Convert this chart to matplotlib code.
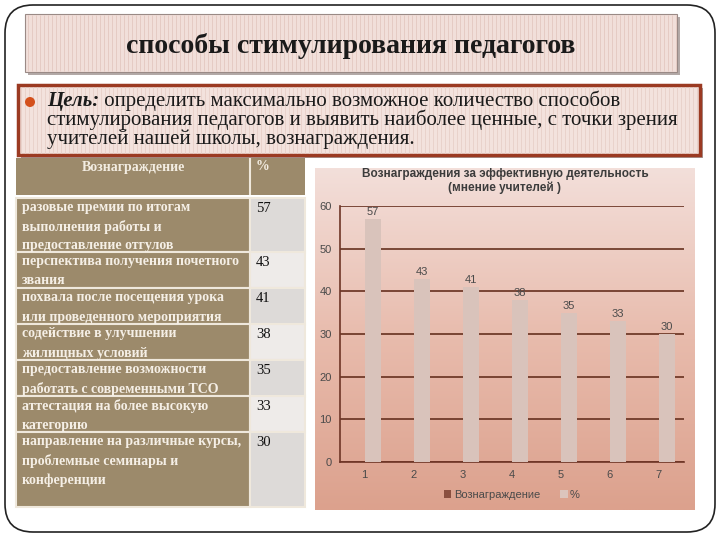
import matplotlib
matplotlib.use("Agg")
import matplotlib.pyplot as plt
from matplotlib.patches import FancyBboxPatch, Rectangle, Circle, Patch
import numpy as np

# ---------------- data ----------------
categories = [1, 2, 3, 4, 5, 6, 7]
values = [57, 43, 41, 38, 35, 33, 30]
rewards = [
    "разовые премии по итогам\nвыполнения работы и\nпредоставление отгулов",
    "перспектива получения почетного\nзвания",
    "похвала после посещения урока\nили проведенного мероприятия",
    "содействие в улучшении\nжилищных условий",
    "предоставление возможности\nработать с современными ТСО",
    "аттестация на более высокую\nкатегорию",
    "направление на различные курсы,\nпроблемные семинары и\nконференции",
]
series_names = ["Вознаграждение", "%"]
table_header = ["Вознаграждение", "%"]
slide_title = "способы стимулирования педагогов"
goal_label = "Цель:"
goal_lines = [
    " определить максимально возможное количество способов",
    "стимулирования педагогов и выявить наиболее ценные, с точки зрения",
    "учителей нашей школы, вознаграждения.",
]
chart_title = ["Вознаграждения за эффективную деятельность", "(мнение учителей )"]

plt.rcParams["font.family"] = ["Liberation Sans", "DejaVu Sans"]
SERIF = ["Liberation Serif", "DejaVu Serif"]

fig = plt.figure(figsize=(7.2, 5.4), dpi=100)
fig.patch.set_facecolor("white")
ax0 = fig.add_axes([0, 0, 1, 1])
ax0.set_xlim(0, 720)
ax0.set_ylim(540, 0)
ax0.axis("off")

# slide border
ax0.add_patch(FancyBboxPatch((5, 5), 710, 527, boxstyle="round,pad=0,rounding_size=28",
                             fc="white", ec="#222222", lw=1.2, zorder=0))

# title box
ax0.add_patch(Rectangle((28, 17), 652, 58, fc="#b3a9a7", ec="none", zorder=1))
ax0.add_patch(Rectangle((25, 14), 652, 58, fc="#f1dfda", ec="#9a8a86", lw=0.8, zorder=2))
ax0.vlines(np.arange(28, 677, 4), 15, 71, color="#e5cbc4", lw=0.7, zorder=2.1)
ax0.text(351, 46, slide_title, ha="center", va="center", fontsize=20, fontweight="bold",
         family=SERIF, color="#1a1a1a", zorder=3)

# goal box
ax0.add_patch(Rectangle((21, 88), 682, 70, fc="#a99d9b", ec="none", zorder=1))
ax0.add_patch(Rectangle((18, 85), 682, 70, fc="#f3e2dd", ec="#9b3a22", lw=2.5, zorder=2))
ax0.vlines(np.arange(21, 699, 4), 87, 153, color="#e9d2cb", lw=0.7, zorder=2.1)
ax0.add_patch(Circle((30, 102), 5, fc="#d4501c", ec="none", zorder=3))
t1 = ax0.text(47, 101, goal_label, ha="left", va="center", fontsize=15, fontweight="bold",
              fontstyle="italic", family=SERIF, color="#1a1a1a", zorder=3)
ax0.annotate(goal_lines[0], xy=(1, 0.5), xycoords=t1, ha="left", va="center", fontsize=15,
             family=SERIF, color="#1a1a1a", zorder=3)
for i, line in enumerate(goal_lines[1:]):
    ax0.text(47, 120 + 19 * i, line, ha="left", va="center", fontsize=15,
             family=SERIF, color="#1a1a1a", zorder=3)

# table
TL, TS, TR = 16, 250, 305
brown = "#9c8a6b"
sep = "#efe8dc"
ax0.add_patch(Rectangle((TL, 158), TR - TL, 37, fc=brown, ec="none", zorder=2))
ax0.vlines(TS, 158, 195, color=sep, lw=1.5, zorder=2.5)
ax0.text((TL + TS) / 2, 167, table_header[0], ha="center", va="center", fontsize=10,
         fontweight="bold", family=SERIF, color="#f3ede2", zorder=3)
ax0.text(TS + 6, 167, table_header[1], ha="left", va="center", fontsize=10,
         fontweight="bold", family=SERIF, color="#f3ede2", zorder=3)
row_bounds = [198, 252, 288, 324, 360, 396, 432, 507]
right_cols = ["#dddad8", "#eeebe9"]
for i, (label, v) in enumerate(zip(rewards, values)):
    top, bot = row_bounds[i], row_bounds[i + 1]
    ax0.add_patch(Rectangle((TL, top), TS - TL, bot - top, fc=brown, ec=sep, lw=1.5, zorder=2))
    ax0.add_patch(Rectangle((TS, top), TR - TS, bot - top, fc=right_cols[i % 2], ec=sep,
                            lw=1.5, zorder=2))
    for j, ln in enumerate(label.split("\n")):
        ax0.text(TL + 6, top + 10 + 19 * j, ln, ha="left", va="center", fontsize=10,
                 fontweight="bold", family=SERIF, color="#f5efe6", zorder=3)
    ax0.text(TS + 6, top + 10, str(v), ha="left", va="center", fontsize=10.5,
             family=SERIF, color="#111111", zorder=3)

# chart background gradient
stops = np.array([[0xf3, 0xdf, 0xda], [0xe8, 0xbb, 0xac], [0xdc, 0xa1, 0x8d]]) / 255.0
n = 200
tt = np.linspace(0, 1, n)
grad = np.zeros((n, 1, 3))
for c in range(3):
    grad[:, 0, c] = np.interp(tt, [0, 0.5, 1], stops[:, c])
ax0.imshow(grad, extent=[315, 695, 510, 168], aspect="auto", zorder=1, interpolation="bilinear")
ax0.set_xlim(0, 720)
ax0.set_ylim(540, 0)
ax0.text(505, 174, chart_title[0], ha="center", va="center", fontsize=8.5, fontweight="bold",
         color="#3c3c3c", zorder=3)
ax0.text(505, 188, chart_title[1], ha="center", va="center", fontsize=8.5, fontweight="bold",
         color="#3c3c3c", zorder=3)

# chart axes
ax = fig.add_axes([340 / 720, (540 - 462) / 540, (683.5 - 340) / 720, (462 - 206) / 540])
ax.set_facecolor("none")
ax.set_zorder(5)
x = np.array(categories, dtype=float)
bw = 0.33
ax.bar(x, values, width=bw, align="edge", color="#d9c3bb", zorder=3)
for xi, v in zip(x, values):
    ax.text(xi + bw / 2, v + 0.4, str(v), ha="center", va="bottom", fontsize=8,
            color="#4a4a4a", zorder=4)
ax.set_xlim(0.5, 7.5)
ax.set_ylim(0, 60)
ax.set_xticks(x)
ax.set_yticks(range(0, 61, 10))
ax.yaxis.grid(True, color="#66301f", lw=1.2, zorder=1)
ax.set_axisbelow(True)
for s in ["top", "right"]:
    ax.spines[s].set_visible(False)
for s in ["left", "bottom"]:
    ax.spines[s].set_color("#6e3526")
    ax.spines[s].set_linewidth(1.2)
ax.tick_params(length=0, labelsize=8, labelcolor="#4a4a4a", pad=6)
handles = [Patch(fc="#8b5040", ec="none"), Patch(fc="#dcc4bc", ec="none")]
ax.legend(handles, series_names, loc="center", bbox_to_anchor=(0.5, (462 - 495) / 256),
          ncol=2, frameon=False, fontsize=8, handlelength=0.7, handleheight=0.7,
          handletextpad=0.2, columnspacing=1.8, labelcolor="#4a4a4a")

fig.savefig("out.png", dpi=100)
